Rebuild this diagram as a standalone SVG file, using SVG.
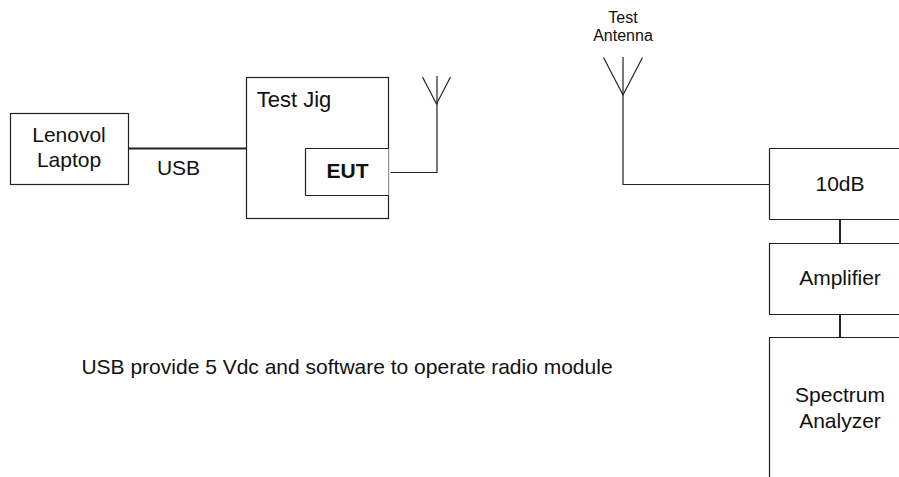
<svg xmlns="http://www.w3.org/2000/svg" width="899" height="477" viewBox="0 0 899 477">
<style>
text{font-family:"Liberation Sans",Arial,sans-serif;font-size:21px;fill:#111;text-anchor:middle}
.b{fill:#fff;stroke:#222;stroke-width:1.2}
.l{fill:none;stroke:#222;stroke-width:1.2}
.t{fill:none;stroke:#222;stroke-width:2}
</style>
<rect width="899" height="477" fill="#fff"/>
<g id="connectors">
<path class="t" d="M128.500 148.500H247"/>
<path class="l" d="M390.500 172.500H437V103.500"/>
<path class="l" d="M422.500 77L436.500 104L450.500 77"/>
<path class="l" d="M437 76V104"/>
<path class="l" d="M623 57V184.500H769"/>
<path class="l" d="M603.500 57.500L623 95L642.500 57.500"/>
<path class="t" d="M840 219V243"/>
<path class="t" d="M840 314V337"/>
</g>
<g id="laptop"><rect class="b" x="10.500" y="113.500" width="118" height="71"/><text x="69" y="141.500">Lenovol</text><text x="69" y="167">Laptop</text></g>
<g id="usb-label"><text x="178.500" y="174.500">USB</text></g>
<g id="jig"><rect class="b" x="246.500" y="77.500" width="142" height="141"/><text x="294" y="107" style="font-size:22px">Test Jig</text></g>
<g id="eut"><path class="b" d="M388.500 148.500H305.500V195.500H388.500"/><text x="347.500" y="178" style="font-weight:700">EUT</text></g>
<g id="antenna-label"><text x="623" y="23" style="font-size:16px">Test</text><text x="623" y="41" style="font-size:16px">Antenna</text></g>
<g id="attenuator"><path class="b" d="M899 148.500H769.500V219.500H899"/><text x="840" y="190.500">10dB</text></g>
<g id="amplifier"><path class="b" d="M899 243.500H769.500V314.500H899"/><text x="840" y="285">Amplifier</text></g>
<g id="analyzer"><path class="b" d="M899 337.500H769.500V477"/><text x="840" y="402">Spectrum</text><text x="840" y="428">Analyzer</text></g>
<g id="note"><text x="347" y="374">USB provide 5 Vdc and software to operate radio module</text></g>
</svg>
